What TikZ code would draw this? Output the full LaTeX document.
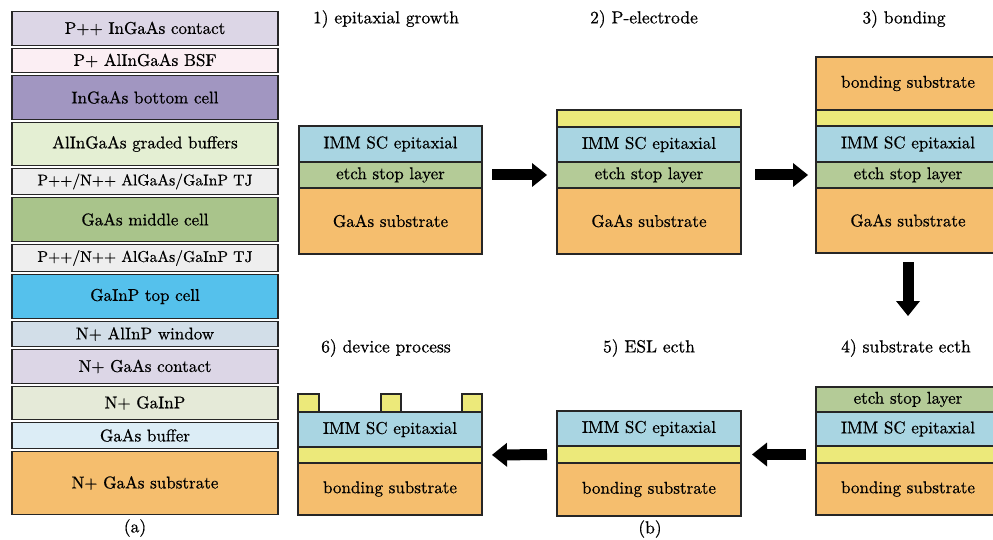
\documentclass[tikz,border=0pt]{standalone}
\usepackage{fontspec}
\setmainfont{lmroman10-regular.otf}[FakeBold=0.6]
\usetikzlibrary{arrows.meta}
\definecolor{cLav}{HTML}{DCD6E6}
\definecolor{cPink}{HTML}{FBEEF3}
\definecolor{cPurp}{HTML}{A196C1}
\definecolor{cLgreen}{HTML}{E4EFD3}
\definecolor{cGray}{HTML}{EEEEEE}
\definecolor{cGreen}{HTML}{A9C48B}
\definecolor{cBlue}{HTML}{55C1EC}
\definecolor{cWin}{HTML}{D2DEE8}
\definecolor{cPgreen}{HTML}{E5EAD8}
\definecolor{cLblue}{HTML}{DCEDF6}
\definecolor{cOrange}{HTML}{F5BE6E}
\definecolor{cImm}{HTML}{A9D5E2}
\definecolor{cEtch}{HTML}{B4CB97}
\definecolor{cYel}{HTML}{ECE97A}
\newcommand\lyr[7]{\node[lay,fill=#6,minimum width=#5pt,minimum height=#4pt] (#1) at (#2,#3) {#7};}
\begin{document}
\begin{tikzpicture}[x=1pt,y=-1pt,
  lay/.style={draw=black!85, line width=1.3pt, inner sep=0pt, outer sep=0pt, anchor=north west, font=\fontsize{17}{19}\selectfont},
  ttl/.style={font=\fontsize{17.5}{19}\selectfont, inner sep=0pt},
  bigarrow/.style={line width=11pt, -{Triangle[length=15pt,width=24pt,line width=0pt]}}]
\useasboundingbox[fill=white] (0,0) rectangle (993,540);
\begin{scope}
\clip (0,0) rectangle (993,540);
% (a) stack
\lyr{a1}{12}{11.5}{34}{266}{cLav}{P++ InGaAs contact}
\lyr{a2}{12}{48.5}{24}{266}{cPink}{P+ AlInGaAs BSF}
\lyr{a3}{12}{75.5}{44}{266}{cPurp}{InGaAs bottom cell}
\lyr{a4}{12}{122.5}{43}{266}{cLgreen}{AlInGaAs graded buffers}
\lyr{a5}{12}{168.5}{26}{266}{cGray}{{\fontsize{15.6}{18}\selectfont P++/N++ AlGaAs/GaInP TJ}}
\lyr{a6}{12}{197.5}{44}{266}{cGreen}{GaAs middle cell}
\lyr{a7}{12}{244.5}{27}{266}{cGray}{{\fontsize{15.6}{18}\selectfont P++/N++ AlGaAs/GaInP TJ}}
\lyr{a8}{12}{274.5}{44}{266}{cBlue}{GaInP top cell}
\lyr{a9}{12}{321.5}{25}{266}{cWin}{N+ AlInP window}
\lyr{a10}{12}{349.5}{34}{266}{cLav}{N+ GaAs contact}
\lyr{a11}{12}{386.5}{33}{266}{cPgreen}{N+ GaInP}
\lyr{a12}{12}{422.5}{26}{266}{cLblue}{GaAs buffer}
\lyr{a13}{12}{451.5}{63}{266}{cOrange}{N+ GaAs substrate}
% panel 1
\lyr{p1i}{299}{126}{36}{183}{cImm}{IMM SC epitaxial}
\lyr{p1e}{299}{162}{26}{183}{cEtch}{etch stop layer}
\lyr{p1s}{299}{188}{66}{183}{cOrange}{GaAs substrate}
% panel 2
\lyr{p2y}{557}{110}{17}{184}{cYel}{}
\lyr{p2i}{557}{127}{35}{184}{cImm}{IMM SC epitaxial}
\lyr{p2e}{557}{162}{26}{184}{cEtch}{etch stop layer}
\lyr{p2s}{557}{188}{66}{184}{cOrange}{GaAs substrate}
% panel 3
\lyr{p3b}{816}{57}{53}{184}{cOrange}{bonding substrate}
\lyr{p3y}{816}{110}{16}{184}{cYel}{}
\lyr{p3i}{816}{126}{36}{184}{cImm}{IMM SC epitaxial}
\lyr{p3e}{816}{162}{26}{184}{cEtch}{etch stop layer}
\lyr{p3s}{816}{188}{65}{184}{cOrange}{GaAs substrate}
% panel 4
\lyr{p4e}{816}{387}{25}{184}{cEtch}{etch stop layer}
\lyr{p4i}{816}{412}{34}{184}{cImm}{IMM SC epitaxial}
\lyr{p4y}{816}{446}{17}{184}{cYel}{}
\lyr{p4b}{816}{463}{52}{184}{cOrange}{bonding substrate}
% panel 5
\lyr{p5i}{557}{411}{35}{184}{cImm}{IMM SC epitaxial}
\lyr{p5y}{557}{446}{17}{184}{cYel}{}
\lyr{p5b}{557}{463}{53}{184}{cOrange}{bonding substrate}
% panel 6
\lyr{p6t1}{298}{394}{18}{21}{cYel}{}
\lyr{p6t2}{381}{394}{18}{20}{cYel}{}
\lyr{p6t3}{462}{394}{18}{20}{cYel}{}
\lyr{p6i}{298}{412}{35}{184}{cImm}{IMM SC epitaxial}
\lyr{p6y}{298}{447}{16}{184}{cYel}{}
\lyr{p6b}{298}{463}{52}{184}{cOrange}{bonding substrate}
% titles
\node[ttl] (t1) at (386,19) {1) epitaxial growth};
\node[ttl] (t2) at (644,19) {2) P-electrode};
\node[ttl] (t3) at (904,19) {3) bonding};
\node[ttl] (t6) at (386,348) {6) device process};
\node[ttl] (t5) at (649,348) {5) ESL ecth};
\node[ttl] (t4) at (906,348) {4) substrate ecth};
\node[ttl] (la) at (135,528) {(a)};
\node[ttl] (lb) at (650,529) {(b)};
% arrows
\draw[bigarrow, shorten <=10pt, shorten >=10pt] (p1e.east) -- (p2e.west);
\draw[bigarrow, shorten <=14pt, shorten >=8pt] (p2e.east) -- (p3e.west);
\draw[bigarrow, shorten <=9pt, shorten >=71pt] (p3s.south) -- (p4e.north);
\draw[bigarrow, shorten <=10pt, shorten >=11pt] (p4y.west) -- (p5y.east);
\draw[bigarrow, shorten <=10pt, shorten >=10pt] (p5y.west) -- (p6y.east);
\end{scope}
\end{tikzpicture}
\end{document}
